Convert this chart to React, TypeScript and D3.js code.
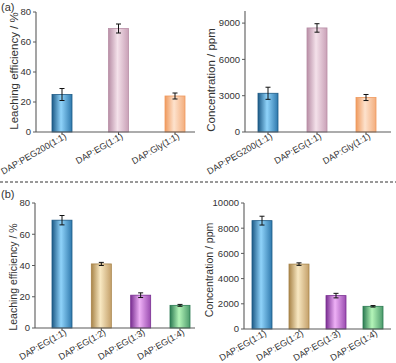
import React from 'react'
import { scaleLinear, scalePoint } from 'd3'

// top row (a)
const catsA = ['DAP:PEG200(1:1)', 'DAP:EG(1:1)', 'DAP:Gly(1:1)']
const effA = [25, 69, 24]
const effErrA = [4, 3, 2]
const concA = [3200, 8600, 2850]
const concErrA = [500, 350, 250]
const colorsA = [
  ['#1d5a86', '#8fd3fa', '#2f79ad'],
  ['#b88ea6', '#f4e1ea', '#c9a1b7'],
  ['#ef9a5e', '#fde2cd', '#f3ad7c'],
]

// bottom row (b)
const catsB = ['DAP:EG(1:1)', 'DAP:EG(1:2)', 'DAP:EG(1:3)', 'DAP:EG(1:4)']
const effB = [69, 41, 21, 14.5]
const effErrB = [3, 1, 1.5, 0.6]
const concB = [8600, 5150, 2650, 1800]
const concErrB = [350, 100, 180, 60]
const colorsB = [
  ['#1d5a86', '#8fd3fa', '#2f79ad'],
  ['#a88449', '#f8e8c2', '#c4a06a'],
  ['#7a2f92', '#eeb0f6', '#9a4cb0'],
  ['#2b7a52', '#b4f5b8', '#4c9a6c'],
]

const effTicks = [0, 20, 40, 60, 80]
const concTicksA = [0, 3000, 6000, 9000]
const concTicksB = [0, 2000, 4000, 6000, 8000, 10000]

const axisColor = '#5a5a5a'
const font = 'Arial, "Liberation Sans", sans-serif'

function Panel({ id, cats, values, errs, colors, ticks, yMax, axisX, centers, yRange, yLabel, labelX, labelY, labelSize }) {
  const x = scalePoint().domain(cats).range(centers)
  const y = scaleLinear().domain([0, yMax]).range(yRange)
  const barW = 20
  const [x0, x1] = axisX
  const base = y(0)
  return (
    <g>
      <defs>
        {colors.map((c, i) => (
          <linearGradient key={i} id={`${id}-g${i}`} x1="0" x2="1" y1="0" y2="0">
            <stop offset="0%" stopColor={c[0]} />
            <stop offset="45%" stopColor={c[1]} />
            <stop offset="100%" stopColor={c[2]} />
          </linearGradient>
        ))}
      </defs>
      {cats.map((c, i) => (
        <rect
          key={c}
          x={x(c) - barW / 2}
          y={y(values[i])}
          width={barW}
          height={base - y(values[i])}
          fill={`url(#${id}-g${i})`}
          stroke={colors[i][0]}
          strokeWidth={0.8}
        />
      ))}
      {cats.map((c, i) => {
        const cx = x(c)
        const top = y(values[i] + errs[i])
        const bot = y(values[i] - errs[i])
        return (
          <g key={c} stroke="#111" strokeWidth={1}>
            <line x1={cx} x2={cx} y1={top} y2={bot} />
            <line x1={cx - 2.5} x2={cx + 2.5} y1={top} y2={top} />
            <line x1={cx - 2.5} x2={cx + 2.5} y1={bot} y2={bot} />
          </g>
        )
      })}
      <line x1={x0} x2={x0} y1={y(yMax)} y2={base} stroke={axisColor} strokeWidth={1.1} />
      <line x1={x0} x2={x1} y1={base} y2={base} stroke={axisColor} strokeWidth={1.1} />
      {ticks.map((t) => (
        <g key={t}>
          <line x1={x0 - 3} x2={x0} y1={y(t)} y2={y(t)} stroke={axisColor} />
          <text x={x0 - 5} y={y(t)} dy="0.35em" textAnchor="end" fontSize={9.5} fill="#333" fontFamily={font}>
            {t}
          </text>
        </g>
      ))}
      {cats.map((c) => (
        <g key={c}>
          <line x1={x(c)} x2={x(c)} y1={base} y2={base + 3} stroke={axisColor} />
          <text
            transform={`translate(${x(c) + 5},${base + 6}) rotate(-30)`}
            textAnchor="end"
            fontSize={9}
            fill="#333"
            fontFamily={font}
          >
            {c}
          </text>
        </g>
      ))}
      <text
        transform={`translate(${labelX},${labelY}) rotate(-90)`}
        textAnchor="middle"
        fontSize={labelSize}
        fill="#333"
        fontFamily={font}
      >
        {yLabel}
      </text>
    </g>
  )
}

export default function App() {
  return (
    <div style={{ position: 'absolute', left: 0, top: 0 }}>
      <svg width={396} height={363} style={{ display: 'block', background: '#fff' }}>
        <text x={1} y={11} fontSize={11} fill="#333" fontFamily={font}>(a)</text>
        <text x={1} y={198} fontSize={11} fill="#333" fontFamily={font}>(b)</text>
        <line x1={0} x2={396} y1={182} y2={182} stroke="#333" strokeDasharray="3,2" strokeWidth={1} />
        <Panel
          id="a1"
          cats={catsA}
          values={effA}
          errs={effErrA}
          colors={colorsA}
          ticks={effTicks}
          yMax={80}
          axisX={[36, 195]}
          centers={[62, 175]}
          yRange={[132, 12]}
          yLabel="Leaching efficiency / %"
          labelX={18}
          labelY={71}
          labelSize={11.5}
        />
        <Panel
          id="a2"
          cats={catsA}
          values={concA}
          errs={concErrA}
          colors={colorsA}
          ticks={concTicksA}
          yMax={10000}
          axisX={[245, 391]}
          centers={[268, 366]}
          yRange={[132, 11]}
          yLabel="Concentration / ppm"
          labelX={215}
          labelY={80}
          labelSize={11.5}
        />
        <Panel
          id="b1"
          cats={catsB}
          values={effB}
          errs={effErrB}
          colors={colorsB}
          ticks={effTicks}
          yMax={80}
          axisX={[35, 195]}
          centers={[62, 180]}
          yRange={[328, 203]}
          yLabel="Leaching efficiency / %"
          labelX={17}
          labelY={277}
          labelSize={10.5}
        />
        <Panel
          id="b2"
          cats={catsB}
          values={concB}
          errs={concErrB}
          colors={colorsB}
          ticks={concTicksB}
          yMax={10000}
          axisX={[244, 391]}
          centers={[262, 373]}
          yRange={[329, 203]}
          yLabel="Concentration / ppm"
          labelX={213}
          labelY={270}
          labelSize={10.5}
        />
      </svg>
    </div>
  )
}
